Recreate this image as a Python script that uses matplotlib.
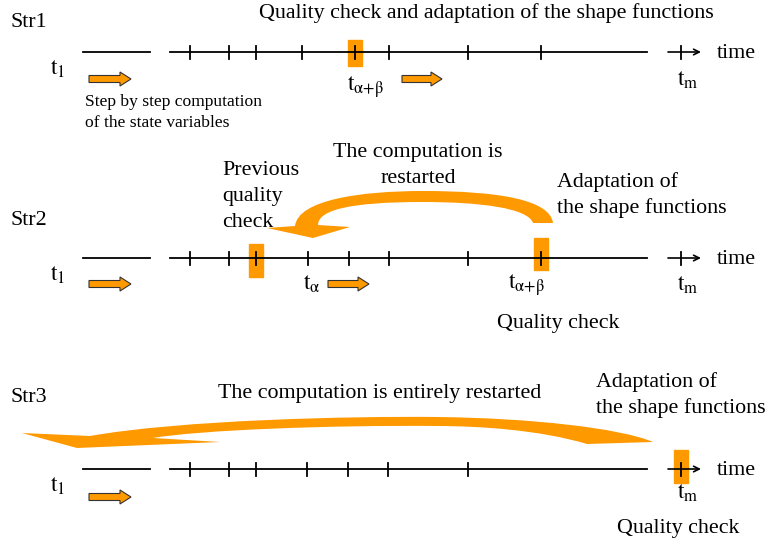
import matplotlib.pyplot as plt
from matplotlib.path import Path
from matplotlib.patches import PathPatch, FancyArrow, Rectangle

plt.rcParams['font.family'] = ['Liberation Serif', 'DejaVu Serif']
plt.rcParams['mathtext.fontset'] = 'stix'

ORANGE = '#FF9900'
FS = 15.8

# strategy rows and their timeline ticks (pixel positions along time)
rows = ['Str1', 'Str2', 'Str3']
row_y = [52, 258, 469]
ticks = [
    [190, 229, 256, 302, 355, 389, 468, 541],
    [190, 229, 256, 308, 349, 389, 468, 541],
    [190, 229, 256, 307, 348, 388, 468],
]
# quality check boxes: (row, x, top, bottom)
checks = [(0, 355, 40, 66), (1, 256, 244, 277), (1, 541, 238, 270), (2, 681, 450, 483)]
# small step arrows: (row, x start, x end, y)
steps = [(0, 89, 131, 79), (0, 402, 442, 79), (1, 89, 131, 284),
         (1, 328, 369, 284), (2, 89, 131, 497)]

T1 = r'$\mathrm{t}_{1}$'
TM = r'$\mathrm{t}_{\mathrm{m}}$'
TA = r'$\mathrm{t}_{\mathrm{α}}$'
TAB = r'$\mathrm{t}_{\mathrm{α{+}β}}$'

fig = plt.figure(figsize=(7.7, 5.44), dpi=100)
ax = fig.add_axes([0, 0, 1, 1])
ax.set_xlim(0, 770)
ax.set_ylim(544, 0)
ax.axis('off')

# quality boxes first so the tick marks sit on top
for r, x, top, bot in checks:
    ax.add_patch(Rectangle((x - 7, top), 14, bot - top, color=ORANGE, zorder=2))

for i, y in enumerate(row_y):
    ax.plot([83, 150], [y, y], color='k', lw=1.3, zorder=3)
    ax.plot([170, 647], [y, y], color='k', lw=1.3, zorder=3)
    for t in ticks[i]:
        ax.plot([t, t], [y - 6, y + 7], color='k', lw=1.3, zorder=3)
    # end of the axis: t_m tick and arrow
    ax.annotate('', xy=(701, y), xytext=(668, y),
                arrowprops=dict(arrowstyle='->', lw=1.2, color='k',
                                mutation_scale=10, shrinkA=0, shrinkB=0),
                zorder=3)
    ax.plot([681, 681], [y - 6, y + 7], color='k', lw=1.3, zorder=3)
    ax.text(717, y + 6, 'time', fontsize=FS, ha='left', va='baseline')
    ax.text(10, [27, 225, 402][i], rows[i], fontsize=FS, ha='left', va='baseline')
    ax.text(50, y + 23, T1, fontsize=17, ha='left', va='baseline')

for r, x0, x1, y in steps:
    ax.add_patch(FancyArrow(x0, y, x1 - x0, 0, width=7, head_width=14,
                            head_length=11, length_includes_head=True,
                            facecolor=ORANGE, edgecolor='#333333', lw=0.8, zorder=3))

# t labels
ax.text(347, 91, TAB, fontsize=17, ha='left', va='baseline')
ax.text(677, 86, TM, fontsize=17, ha='left', va='baseline')
ax.text(303, 290, TA, fontsize=17, ha='left', va='baseline')
ax.text(508, 289, TAB, fontsize=17, ha='left', va='baseline')
ax.text(677, 291, TM, fontsize=17, ha='left', va='baseline')
ax.text(677, 499, TM, fontsize=17, ha='left', va='baseline')

# Str1 texts
ax.text(486, 18, 'Quality check and adaptation of the shape functions',
        fontsize=FS, ha='center', va='baseline')
ax.text(85, 106, 'Step by step computation', fontsize=12.6, ha='left', va='baseline')
ax.text(85, 127, 'of the state variables', fontsize=12.6, ha='left', va='baseline')

# Str2 texts
for s, yb in zip(['Previous', 'quality', 'check'], [175, 201, 227]):
    ax.text(222, yb, s, fontsize=FS, ha='left', va='baseline')
for s, yb in zip(['The computation is', 'restarted'], [157, 183]):
    ax.text(418, yb, s, fontsize=FS, ha='center', va='baseline')
for s, yb in zip(['Adaptation of', 'the shape functions'], [187, 213]):
    ax.text(557, yb, s, fontsize=FS, ha='left', va='baseline')
ax.text(497, 328, 'Quality check', fontsize=FS, ha='left', va='baseline')

# Str3 texts
ax.text(380, 398, 'The computation is entirely restarted', fontsize=FS,
        ha='center', va='baseline')
for s, yb in zip(['Adaptation of', 'the shape functions'], [387, 413]):
    ax.text(596, yb, s, fontsize=FS, ha='left', va='baseline')
ax.text(617, 533, 'Quality check', fontsize=FS, ha='left', va='baseline')

M, L, C, Z = Path.MOVETO, Path.LINETO, Path.CURVE4, Path.CLOSEPOLY

# curved restart arrow of Str2
v2 = [(553, 223),
      (550, 200), (500, 191), (423, 191),
      (360, 191), (298, 200), (295, 226),
      (267, 228), (313, 238), (350, 227), (318, 225),
      (318, 210), (350, 202), (423, 202),
      (480, 202), (528, 208), (533, 223),
      (553, 223)]
c2 = [M, C, C, C, C, C, C, L, L, L, L, C, C, C, C, C, C, Z]
ax.add_patch(PathPatch(Path(v2, c2), facecolor=ORANGE, edgecolor='none', zorder=2))

# long restart arrow of Str3
v3 = [(22, 433), (90, 436),
      (180, 420), (350, 416), (437, 417),
      (530, 418), (620, 428), (653, 442),
      (587, 444),
      (540, 430), (480, 426), (437, 426),
      (330, 425), (200, 430), (153, 438),
      (220, 442), (77, 448), (22, 433)]
c3 = [M, L, C, C, C, C, C, C, L, C, C, C, C, C, C, L, L, Z]
ax.add_patch(PathPatch(Path(v3, c3), facecolor=ORANGE, edgecolor='none', zorder=2))

fig.savefig('out.png', dpi=100)
